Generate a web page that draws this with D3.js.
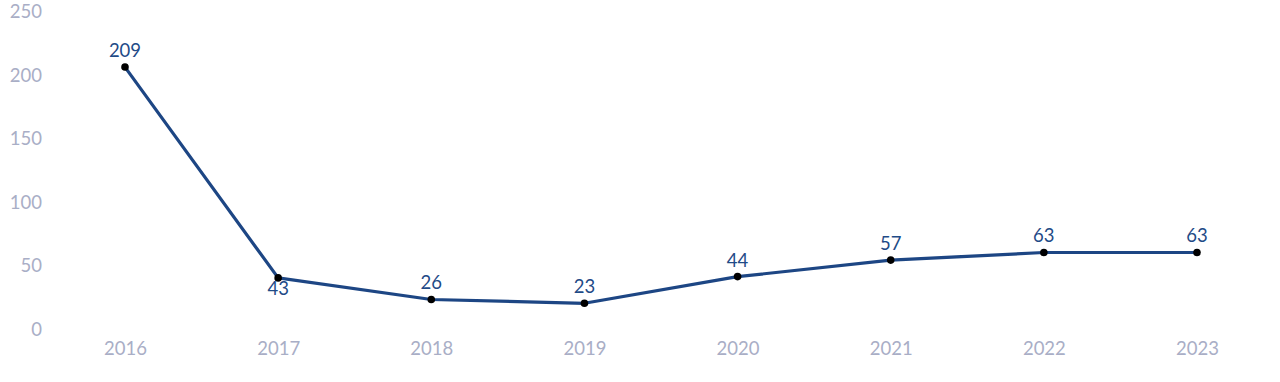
<!DOCTYPE html>
<html><head><meta charset="utf-8">
<script src="https://cdn.jsdelivr.net/npm/d3@7"></script>
<style>body{margin:0;background:#fff}svg{display:block}text{font-family:Lato,"Noto Sans",sans-serif}</style>
</head><body><svg id="c" width="1280" height="382"></svg>
<script>
const years = ["2016","2017","2018","2019","2020","2021","2022","2023"];
const values = [209,43,26,23,44,57,63,63];
const yTicks = [0,50,100,150,200,250];
const labelSide = ["above","below","above","above","above","above","above","above"];

const svg = d3.select("#c");
const x = d3.scalePoint().domain(years).range([125,1197]);
const y = d3.scaleLinear().domain([0,250]).range([332.5,15]);

const tickColor = "#a9aec6";
const ya = svg.append("g").attr("transform","translate(42,0)")
  .call(d3.axisLeft(y).tickValues(yTicks).tickSize(0).tickPadding(0));
ya.select(".domain").remove();
ya.selectAll("text").attr("fill",tickColor).style("font-size","18.5px").attr("dy","0.32em")
  .attr("transform","translate(0,-3)").style("font-family","Lato,'Noto Sans',sans-serif");

const xa = svg.append("g").attr("transform","translate(0,342)")
  .call(d3.axisBottom(x).tickSize(0).tickPadding(0));
xa.select(".domain").remove();
xa.selectAll("text").attr("fill",tickColor).style("font-size","18.5px").attr("dy","0.71em")
  .style("font-family","Lato,'Noto Sans',sans-serif");

const line = d3.line().x((d,i)=>x(years[i])).y(d=>y(d));
svg.append("path").datum(values).attr("d",line).attr("fill","none")
  .attr("stroke","#1d4684").attr("stroke-width",3.2).attr("stroke-linejoin","round");

svg.selectAll("circle.pt").data(values).join("circle").attr("class","pt")
  .attr("cx",(d,i)=>x(years[i])).attr("cy",d=>y(d)).attr("r",3.8).attr("fill","#000");

svg.selectAll("text.val").data(values).join("text").attr("class","val")
  .attr("x",(d,i)=>x(years[i]))
  .attr("y",(d,i)=> labelSide[i]==="above" ? y(d)-10 : y(d)+17)
  .attr("text-anchor","middle").attr("fill","#1f4b87").style("font-size","18.5px")
  .text(d=>d);
</script></body></html>
